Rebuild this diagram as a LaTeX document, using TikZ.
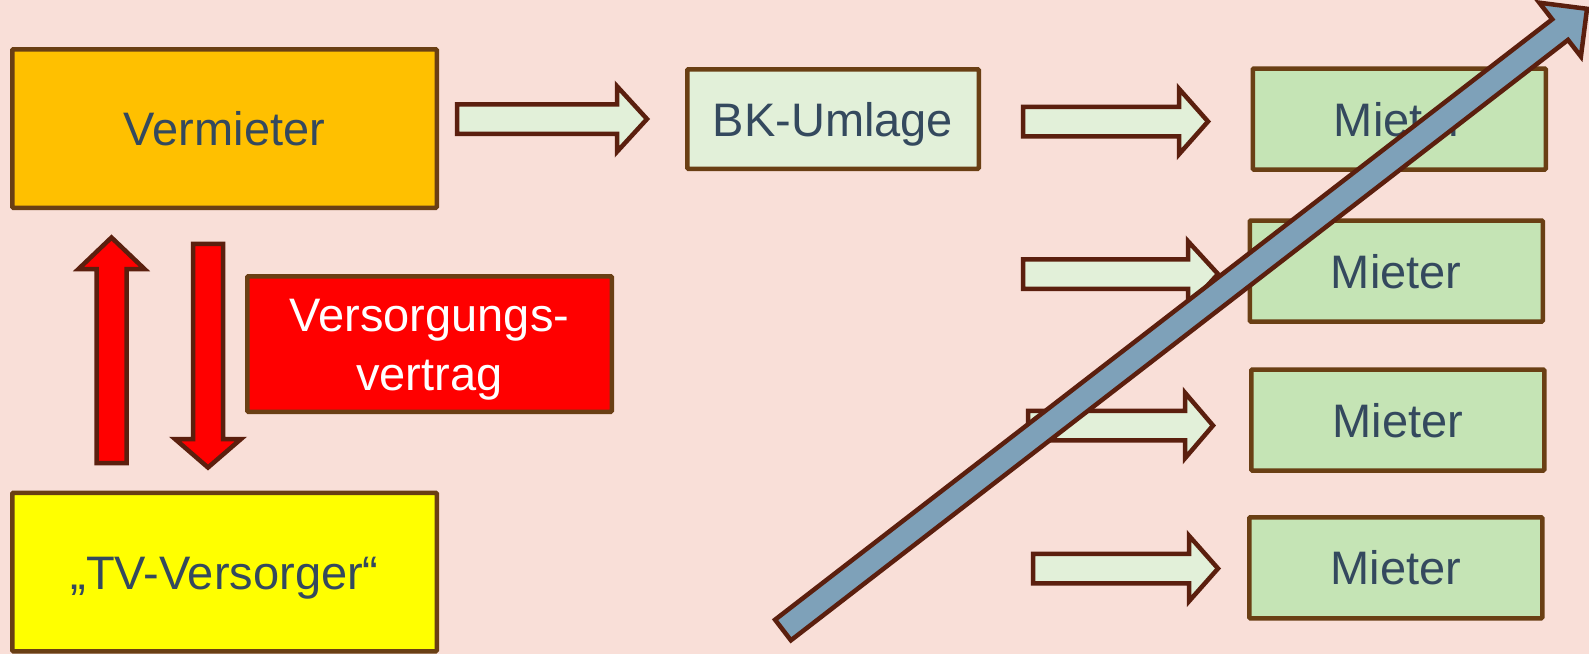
\documentclass[tikz,border=0pt]{standalone}
\usepackage{fontspec}
\setmainfont{Liberation Sans}
\definecolor{bg}{RGB}{249,223,216}
\definecolor{boxbrown}{RGB}{106,63,20}
\definecolor{arrbrown}{RGB}{91,31,14}
\definecolor{txt}{RGB}{52,73,94}
\definecolor{orangebox}{RGB}{255,192,0}
\definecolor{yellowbox}{RGB}{255,255,0}
\definecolor{redbox}{RGB}{255,0,0}
\definecolor{greenbox}{RGB}{197,228,181}
\definecolor{arrfill}{RGB}{226,240,217}
\definecolor{bluearr}{RGB}{126,161,185}
\tikzset{
  box/.style={draw=boxbrown, line width=4.5pt, rounded corners=1pt, inner sep=0pt,
    text=txt, font=\fontsize{47}{59}\selectfont, text height=34pt, text depth=0pt},
  blk/.style={draw=arrbrown, line width=4.5pt, fill=arrfill, line join=miter, miter limit=10},
  redblk/.style={blk, fill=redbox},
  blueblk/.style={blk, fill=bluearr},
}
% right block arrow: tail x, head base x, tip x, centre y
\newcommand\rblock[4]{%
  \draw[blk] (#1,#4-14.75) -- (#2,#4-14.75) -- (#2,#4-32.75) -- (#3,#4)
    -- (#2,#4+32.75) -- (#2,#4+14.75) -- (#1,#4+14.75) -- cycle;}
\begin{document}
\begin{tikzpicture}[x=1pt,y=-1pt]
\useasboundingbox (0,0) rectangle (1589,654);
\fill[bg] (0,0) rectangle (1589,654);

% boxes
\node[box, fill=orangebox, minimum width=424.5pt, minimum height=158.5pt] (verm) at (224.5,128.5) {Vermieter};
\node[box, fill=yellowbox, minimum width=424.5pt, minimum height=158.5pt] (tv) at (224.5,572) {„TV-Versorger“};
\node[box, fill=redbox, text=white, align=center, minimum width=364.5pt, minimum height=135.5pt,
  text height=93pt, text depth=-9pt] (vv) at (429.5,344) {Versorgungs-\\vertrag};
\node[box, fill=arrfill, minimum width=291.5pt, minimum height=99.5pt] (bk) at (833,119) {BK-Umlage};
\node[box, fill=greenbox, minimum width=293pt, minimum height=101pt] (m1) at (1399.25,119) {Mieter};
\node[box, fill=greenbox, minimum width=293pt, minimum height=101pt] (m2) at (1396.25,271) {Mieter};
\node[box, fill=greenbox, minimum width=293pt, minimum height=101pt] (m3) at (1397.75,420) {Mieter};
\node[box, fill=greenbox, minimum width=293pt, minimum height=101pt] (m4) at (1395.75,567.75) {Mieter};

% red vertical block arrows
\draw[redblk] (96.5,463) -- (96.5,269) -- (78.5,269) -- (111.5,237.5) -- (144.5,269)
  -- (126.5,269) -- (126.5,463) -- cycle;
\draw[redblk] (193,243.75) -- (223,243.75) -- (223,439) -- (241,439) -- (208,467.5)
  -- (175,439) -- (193,439) -- cycle;

% horizontal block arrows
\rblock{457}{617}{647}{119}
\rblock{1023}{1179}{1208}{121.5}
\rblock{1023}{1188}{1218}{274}
\rblock{1028}{1185}{1213}{425.5}
\rblock{1033}{1189}{1218}{568.5}

% large diagonal blue arrow
\draw[blueblk] (775.05,619.7) -- (1552.2,19.3) -- (1539.3,2.7) -- (1587.0,8.8)
  -- (1580.9,56.5) -- (1568.0,39.9) -- (790.9,640.3) -- cycle;
\end{tikzpicture}
\end{document}
